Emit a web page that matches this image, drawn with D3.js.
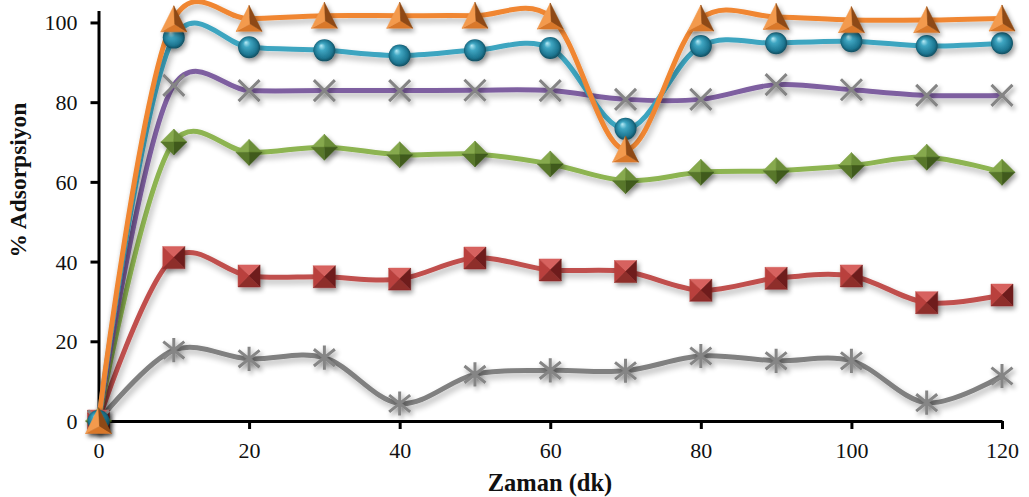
<!DOCTYPE html>
<html>
<head>
<meta charset="utf-8">
<script src="https://cdn.jsdelivr.net/npm/d3@7"></script>
<style>
  html, body { margin: 0; padding: 0; background: #ffffff; }
  svg { display: block; }
  .axis text { font-family: "Liberation Serif", "Times New Roman", serif; font-size: 22px; fill: #111; }
  .axis path, .axis line { stroke: #000; stroke-width: 3px; }
  .title { font-family: "Liberation Serif", "Times New Roman", serif; font-weight: bold; fill: #111; }
</style>
</head>
<body>
<svg id="chart" width="1029" height="497"></svg>
<script>
// Time points (minutes)
const minutes = [0, 10, 20, 30, 40, 50, 60, 70, 80, 90, 100, 110, 120];

// Adsorption (%) for each run
const triangleRun = [0, 100.8, 100.9, 101.7, 101.7, 101.7, 101.5, 68.1, 101.0, 101.4, 100.6, 100.6, 101.0];
const sphereRun   = [0, 96.2, 93.8, 93.0, 91.7, 93.0, 93.6, 73.3, 94.1, 94.8, 95.3, 94.1, 94.8];
const crossRun    = [0, 84.2, 82.9, 82.9, 82.9, 83.0, 82.9, 80.7, 80.7, 84.4, 83.1, 81.7, 81.7];
const diamondRun  = [0, 70.0, 67.4, 68.7, 66.8, 67.0, 64.5, 60.3, 62.4, 62.8, 64.1, 66.2, 62.4];
const squareRun   = [0, 41.0, 36.4, 36.2, 35.6, 40.9, 37.9, 37.5, 32.8, 35.8, 36.4, 29.7, 31.6];
const starRun     = [0, 17.8, 15.6, 15.9, 4.4, 11.7, 12.7, 12.6, 16.3, 15.1, 15.1, 4.6, 11.3];

// Axis ticks
const xTicks = [0, 20, 40, 60, 80, 100, 120];
const yTicks = [0, 20, 40, 60, 80, 100];

const xTitle = "Zaman (dk)";
const yTitle = "% Adsorpsiyon";

const svg = d3.select("#chart");

const x = d3.scaleLinear().domain([0, 120]).range([98.5, 1002]);
const y = d3.scaleLinear().domain([0, 103]).range([421, 10.5]);

// ----- filters and gradients -----
const defs = svg.append("defs");
const shadow = defs.append("filter").attr("id", "lineShadow")
  .attr("filterUnits", "userSpaceOnUse")
  .attr("x", 0).attr("y", 0).attr("width", 1029).attr("height", 497);
shadow.append("feGaussianBlur").attr("in", "SourceAlpha").attr("stdDeviation", 3).attr("result", "b");
shadow.append("feOffset").attr("in", "b").attr("dx", 2).attr("dy", 4).attr("result", "o");
shadow.append("feComponentTransfer").attr("in", "o").attr("result", "s")
  .append("feFuncA").attr("type", "linear").attr("slope", 0.3);
const sm = shadow.append("feMerge");
sm.append("feMergeNode").attr("in", "s");
sm.append("feMergeNode").attr("in", "SourceGraphic");

const mShadow = defs.append("filter").attr("id", "markShadow")
  .attr("x", "-60%").attr("y", "-60%").attr("width", "220%").attr("height", "220%");
mShadow.append("feGaussianBlur").attr("in", "SourceAlpha").attr("stdDeviation", 2.5).attr("result", "b");
mShadow.append("feOffset").attr("in", "b").attr("dx", 2).attr("dy", 3).attr("result", "o");
mShadow.append("feComponentTransfer").attr("in", "o").attr("result", "s")
  .append("feFuncA").attr("type", "linear").attr("slope", 0.4);
const mm = mShadow.append("feMerge");
mm.append("feMergeNode").attr("in", "s");
mm.append("feMergeNode").attr("in", "SourceGraphic");

const ball = defs.append("radialGradient").attr("id", "ball")
  .attr("cx", "50%").attr("cy", "50%").attr("r", "55%")
  .attr("fx", "35%").attr("fy", "28%");
ball.append("stop").attr("offset", "0%").attr("stop-color", "#b9ecf7");
ball.append("stop").attr("offset", "30%").attr("stop-color", "#3fa6c2");
ball.append("stop").attr("offset", "75%").attr("stop-color", "#1d7590");
ball.append("stop").attr("offset", "100%").attr("stop-color", "#0b3f4e");

// ----- axes -----
const xAxis = svg.append("g").attr("class", "axis")
  .attr("transform", `translate(0,${y(0)})`)
  .call(d3.axisBottom(x).tickValues(xTicks).tickSize(8).tickSizeOuter(0).tickPadding(13));
const yAxis = svg.append("g").attr("class", "axis")
  .attr("transform", `translate(${x(0)},0)`)
  .call(d3.axisLeft(y).tickValues(yTicks).tickSize(8).tickSizeOuter(0).tickPadding(13));
yAxis.selectAll("text").attr("dy", "0.34em");

svg.append("text").attr("class", "title")
  .attr("x", 550).attr("y", 491)
  .attr("text-anchor", "middle").style("font-size", "24.5px")
  .text(xTitle);
svg.append("text").attr("class", "title")
  .attr("transform", "translate(18,180) rotate(-90)")
  .attr("text-anchor", "middle").attr("dy", "0.35em").style("font-size", "23.5px")
  .text(yTitle);

// ----- series -----
const series = [
  { values: starRun,     color: "#808080", marker: "star" },
  { values: squareRun,   color: "#C0504D", marker: "square" },
  { values: diamondRun,  color: "#8DB451", marker: "diamond" },
  { values: crossRun,    color: "#7E5FA0", marker: "cross" },
  { values: sphereRun,   color: "#3DA5C0", marker: "sphere" },
  { values: triangleRun, color: "#F08630", marker: "triangle" }
];

const line = d3.line()
  .x((d, i) => x(minutes[i]))
  .y(d => y(d))
  .curve(d3.curveCatmullRom.alpha(0.2));

svg.append("g").selectAll("path.series")
  .data(series).join("path")
  .attr("class", "series")
  .attr("d", s => line(s.values))
  .attr("fill", "none")
  .attr("stroke", s => s.color)
  .attr("stroke-width", 5)
  .attr("stroke-linecap", "round")
  .attr("stroke-linejoin", "round")
  .attr("filter", "url(#lineShadow)");

// ----- markers -----
function drawFaces(g, faces) {
  faces.forEach(f => {
    g.append("path").attr("d", "M" + f.pts.map(p => p.join(",")).join("L") + "Z")
      .attr("fill", f.fill).attr("stroke", f.fill).attr("stroke-width", 0.5);
  });
}

const markerDrawers = {
  triangle(g) {
    const A = [0, -13.5], L = [-13, 12.5], R = [13, 12.5], C = [1, 5];
    drawFaces(g, [
      { pts: [L, R, C], fill: "#D9782C" },
      { pts: [A, L, C], fill: "#F39A4E" },
      { pts: [A, R, C], fill: "#8E4A14" }
    ]);
  },
  sphere(g) {
    g.append("circle").attr("r", 11).attr("fill", "url(#ball)");
  },
  square(g) {
    const s = 11, TL = [-s, -s], TR = [s, -s], BR = [s, s], BL = [-s, s], C = [0, 0];
    drawFaces(g, [
      { pts: [TL, TR, C], fill: "#D7625E" },
      { pts: [TL, BL, C], fill: "#B9403D" },
      { pts: [TR, BR, C], fill: "#6E1E1C" },
      { pts: [BL, BR, C], fill: "#8E2D2A" }
    ]);
  },
  diamond(g) {
    const T = [0, -13], Rt = [13, 0], B = [0, 13], Lf = [-13, 0], C = [0, 0];
    drawFaces(g, [
      { pts: [T, Lf, C], fill: "#86A94E" },
      { pts: [T, Rt, C], fill: "#6A8C37" },
      { pts: [Rt, B, C], fill: "#3F5A1C" },
      { pts: [B, Lf, C], fill: "#58772C" }
    ]);
  },
  cross(g) {
    const r = 10.5;
    g.append("path").attr("d", `M${-r},${-r}L${r},${r}M${-r},${r}L${r},${-r}`)
      .attr("stroke", "#858585").attr("stroke-width", 3).attr("fill", "none");
  },
  star(g) {
    const r = 10.5;
    g.append("path").attr("d", `M${-r},${-r * 0.8}L${r},${r * 0.8}M${-r},${r * 0.8}L${r},${-r * 0.8}M0,${-r * 1.15}L0,${r * 1.15}`)
      .attr("stroke", "#858585").attr("stroke-width", 3).attr("fill", "none");
  }
};

const markerLayer = svg.append("g");
series.forEach(s => {
  markerLayer.append("g").selectAll("g")
    .data(s.values).join("g")
    .attr("transform", (d, i) => `translate(${x(minutes[i])},${y(d)})`)
    .attr("filter", "url(#markShadow)")
    .each(function () { markerDrawers[s.marker](d3.select(this)); });
});
</script>
</body>
</html>
